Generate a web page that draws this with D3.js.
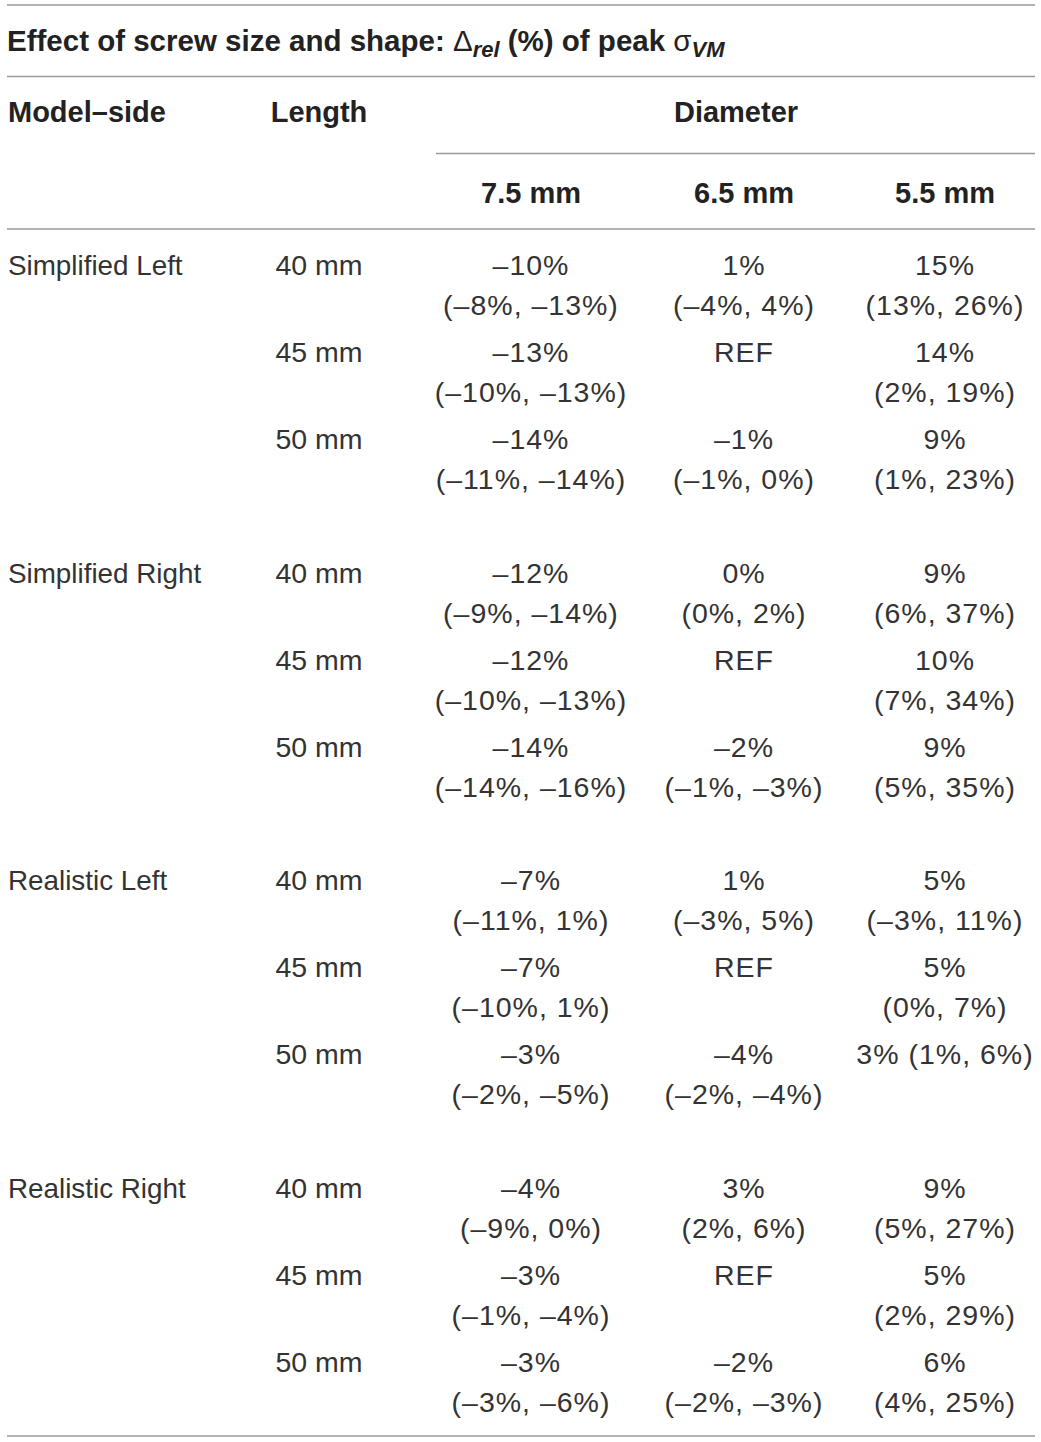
<!DOCTYPE html>
<html lang="en">
<head>
    <meta charset="UTF-8">
    <title>Effect of screw size and shape</title>
    <script src="https://d3js.org/d3.v7.min.js"></script>
    <style>
        body { margin: 0; background: #fff; }
        text { font-family: "Liberation Sans", Arial, Helvetica, sans-serif; }
        .title { font-size: 29.5px; font-weight: bold; fill: #222; }
        .head { font-size: 29px; font-weight: bold; fill: #222; }
        .cell { font-size: 28.5px; fill: #333; }
        .side { font-size: 27.8px; }
        .v, .rg { letter-spacing: 1px; }
        .rule { stroke: #9a9a9a; stroke-width: 1.6px; }
    </style>
</head>
<body>
    <svg width="1041" height="1442"></svg>

    <script>
        const width = 1041;
        const height = 1442;

        // Datos de la tabla
        const modelSides = ["Simplified Left", "Simplified Right", "Realistic Left", "Realistic Right"];
        const lengths = ["40 mm", "45 mm", "50 mm"];
        const diameters = ["7.5 mm", "6.5 mm", "5.5 mm"];

        // valor central por grupo, fila (longitud) y columna (diámetro)
        const simplifiedLeft = [
            ["–10%", "1%", "15%"],
            ["–13%", "REF", "14%"],
            ["–14%", "–1%", "9%"]
        ];
        const simplifiedRight = [
            ["–12%", "0%", "9%"],
            ["–12%", "REF", "10%"],
            ["–14%", "–2%", "9%"]
        ];
        const realisticLeft = [
            ["–7%", "1%", "5%"],
            ["–7%", "REF", "5%"],
            ["–3%", "–4%", "3% (1%, 6%)"]
        ];
        const realisticRight = [
            ["–4%", "3%", "9%"],
            ["–3%", "REF", "5%"],
            ["–3%", "–2%", "6%"]
        ];

        // intervalos (segunda línea de cada celda)
        const simplifiedLeftRange = [
            ["(–8%, –13%)", "(–4%, 4%)", "(13%, 26%)"],
            ["(–10%, –13%)", "", "(2%, 19%)"],
            ["(–11%, –14%)", "(–1%, 0%)", "(1%, 23%)"]
        ];
        const simplifiedRightRange = [
            ["(–9%, –14%)", "(0%, 2%)", "(6%, 37%)"],
            ["(–10%, –13%)", "", "(7%, 34%)"],
            ["(–14%, –16%)", "(–1%, –3%)", "(5%, 35%)"]
        ];
        const realisticLeftRange = [
            ["(–11%, 1%)", "(–3%, 5%)", "(–3%, 11%)"],
            ["(–10%, 1%)", "", "(0%, 7%)"],
            ["(–2%, –5%)", "(–2%, –4%)", ""]
        ];
        const realisticRightRange = [
            ["(–9%, 0%)", "(2%, 6%)", "(5%, 27%)"],
            ["(–1%, –4%)", "", "(2%, 29%)"],
            ["(–3%, –6%)", "(–2%, –3%)", "(4%, 25%)"]
        ];

        const values = [simplifiedLeft, simplifiedRight, realisticLeft, realisticRight];
        const ranges = [simplifiedLeftRange, simplifiedRightRange, realisticLeftRange, realisticRightRange];

        const svg = d3.select("svg")
            .attr("width", width)
            .attr("height", height);

        // escalas
        const xDiam = d3.scalePoint()
            .domain(diameters)
            .range([531, 945])
            .padding(0);
        // la columna del medio no queda exactamente en el centro
        const xCol = d => d === "6.5 mm" ? 744 : xDiam(d);
        const xLength = 319;
        const xModel = 8;

        const yGroup = d3.scaleLinear()
            .domain([0, 3])
            .range([265, 1188]);
        const ySub = d3.scalePoint()
            .domain(lengths)
            .range([0, 174]);
        const lineGap = 40;
        const base = 10; // de centro a línea base

        const rules = [
            { y: 5, x1: 7, x2: 1035 },
            { y: 76.5, x1: 7, x2: 1035 },
            { y: 153.5, x1: 436, x2: 1035 },
            { y: 229, x1: 7, x2: 1035 },
            { y: 1436, x1: 7, x2: 1035 }
        ];
        svg.selectAll(".rule")
            .data(rules)
            .enter().append("line")
            .attr("class", "rule")
            .attr("x1", d => d.x1)
            .attr("x2", d => d.x2)
            .attr("y1", d => d.y)
            .attr("y2", d => d.y);

        // título
        const title = svg.append("text")
            .attr("class", "title")
            .attr("x", 7)
            .attr("y", 51);
        title.append("tspan").text("Effect of screw size and shape: ");
        title.append("tspan").style("font-weight", "normal").text("Δ");
        title.append("tspan").attr("dy", 6).style("font-size", "22px").style("font-style", "italic").text("rel");
        title.append("tspan").attr("dy", -6).text(" (%) of peak ");
        title.append("tspan").style("font-weight", "normal").text("σ");
        title.append("tspan").attr("dy", 6).style("font-size", "22px").style("font-style", "italic").text("VM");

        // encabezados
        svg.append("text").attr("class", "head")
            .attr("x", xModel).attr("y", 122)
            .text("Model–side");
        svg.append("text").attr("class", "head")
            .attr("x", xLength).attr("y", 122)
            .style("text-anchor", "middle")
            .text("Length");
        svg.append("text").attr("class", "head")
            .attr("x", 736).attr("y", 122)
            .style("text-anchor", "middle")
            .text("Diameter");
        svg.selectAll(".diam")
            .data(diameters)
            .enter().append("text")
            .attr("class", "head diam")
            .attr("x", d => xCol(d))
            .attr("y", 203)
            .style("text-anchor", "middle")
            .text(d => d);

        // cuerpo
        modelSides.forEach((side, g) => {
            const y0 = yGroup(g);
            svg.append("text").attr("class", "cell side")
                .attr("x", xModel).attr("y", y0 + base)
                .text(side);

            lengths.forEach((len, r) => {
                const y = y0 + ySub(len);
                svg.append("text").attr("class", "cell")
                    .attr("x", xLength).attr("y", y + base)
                    .style("text-anchor", "middle")
                    .text(len);

                const cells = diameters.map((dm, c) => ({
                    dm: dm,
                    v: values[g][r][c],
                    rg: ranges[g][r][c]
                }));

                const cg = svg.append("g");
                cg.selectAll(".v")
                    .data(cells)
                    .enter().append("text")
                    .attr("class", "cell v")
                    .attr("x", d => xCol(d.dm))
                    .attr("y", y + base)
                    .style("text-anchor", "middle")
                    .text(d => d.v);
                cg.selectAll(".rg")
                    .data(cells.filter(d => d.rg))
                    .enter().append("text")
                    .attr("class", "cell rg")
                    .attr("x", d => xCol(d.dm))
                    .attr("y", y + lineGap + base)
                    .style("text-anchor", "middle")
                    .text(d => d.rg);
            });
        });
    </script>
</body>
</html>
